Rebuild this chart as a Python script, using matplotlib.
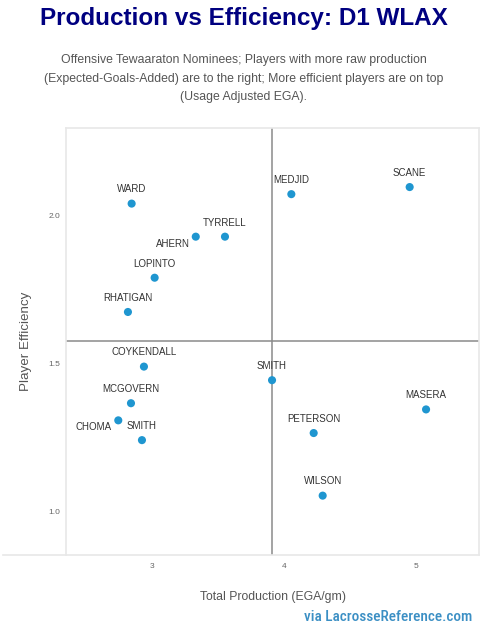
"""Production vs efficiency scatter, D1 WLAX Tewaaraton nominees."""
import matplotlib
matplotlib.use("Agg")
import matplotlib.pyplot as plt
from matplotlib.lines import Line2D

plt.rcParams['font.family'] = ['Liberation Sans', 'DejaVu Sans']

# data
players = ['WARD', 'AHERN', 'TYRRELL', 'LOPINTO', 'RHATIGAN', 'COYKENDALL',
           'MCGOVERN', 'CHOMA', 'SMITH', 'MEDJID', 'SCANE', 'SMITH',
           'MASERA', 'PETERSON', 'WILSON']
production = [2.846, 3.331, 3.552, 3.020, 2.818, 2.939,
              2.841, 2.745, 2.924, 4.054, 4.949, 3.908,
              5.073, 4.223, 4.291]
efficiency = [2.041, 1.929, 1.929, 1.790, 1.674, 1.489,
              1.365, 1.307, 1.240, 2.073, 2.097, 1.443,
              1.344, 1.264, 1.052]

x_ticks = [3, 4, 5]
y_ticks = [1.0, 1.5, 2.0]
x_mid = 3.910
y_mid = 1.5757

# labels that sit to the left of the dot instead of above it
left_labels = {'AHERN', 'CHOMA'}

fig = plt.figure(figsize=(4.88, 6.34), dpi=100, facecolor='w')
ax = fig.add_axes([66 / 488, 1 - 555 / 634, 413 / 488, 426.7 / 634])

ax.set_xlim(2.3495, 5.4735)
ax.set_ylim(0.851, 2.296)

ax.axvline(x_mid, color='#8a8a8a', lw=1.1, zorder=1)
ax.axhline(y_mid, color='#8a8a8a', lw=1.1, zorder=1)

ax.scatter(production, efficiency, s=34, color='#1f96d0', zorder=3,
           edgecolors='none')

for name, px, py in zip(players, production, efficiency):
    if name in left_labels:
        ax.annotate(name, (px, py), xytext=(-4.5, -5), textcoords='offset points',
                    ha='right', va='center', fontsize=7, color='#333333')
    else:
        ax.annotate(name, (px, py), xytext=(0, 10.2), textcoords='offset points',
                    ha='center', va='center', fontsize=7, color='#333333')

for side in ['top', 'right', 'left', 'bottom']:
    ax.spines[side].set_color('#e8e8e8')
    ax.spines[side].set_linewidth(1.2)

ax.set_xticks(x_ticks)
ax.set_xticklabels([str(t) for t in x_ticks])
ax.set_yticks(y_ticks)
ax.set_yticklabels([f'{t:.1f}' for t in y_ticks])
ax.tick_params(length=0, labelsize=6, labelcolor='#666666')
ax.tick_params(axis='x', pad=6)
ax.tick_params(axis='y', pad=4)

# bottom axis line runs out to the left edge of the figure
fig.add_artist(Line2D([3 / 488, 66 / 488], [1 - 555 / 634] * 2,
                      color='#e8e8e8', lw=1.2, transform=fig.transFigure))

ax.set_xlabel('Total Production (EGA/gm)', fontsize=8.8, color='#555555',
              labelpad=15)
ax.set_ylabel('Player Efficiency', fontsize=9.6, color='#555555', labelpad=12)

fig.text(0.5, 1 - 19 / 634, 'Production vs Efficiency: D1 WLAX', ha='center',
         va='center', fontsize=17.5, fontweight='bold', color='#000080')

sub = ['Offensive Tewaaraton Nominees; Players with more raw production',
       '(Expected-Goals-Added) are to the right; More efficient players are on top',
       '(Usage Adjusted EGA).']
for i, line in enumerate(sub):
    fig.text(0.5, 1 - (60 + 18.6 * i) / 634, line, ha='center', va='center',
             fontsize=8.8, color='#555555')

fig.text(472 / 488, 1 - 617 / 634, 'via LacrosseReference.com', ha='right',
         va='center', fontsize=11, fontweight='medium', color='#3b8fc4',
         family=['Roboto Condensed', 'Liberation Sans Narrow', 'Roboto'],
         fontstretch='condensed')

plt.savefig('out.png', dpi=100, facecolor='w')
